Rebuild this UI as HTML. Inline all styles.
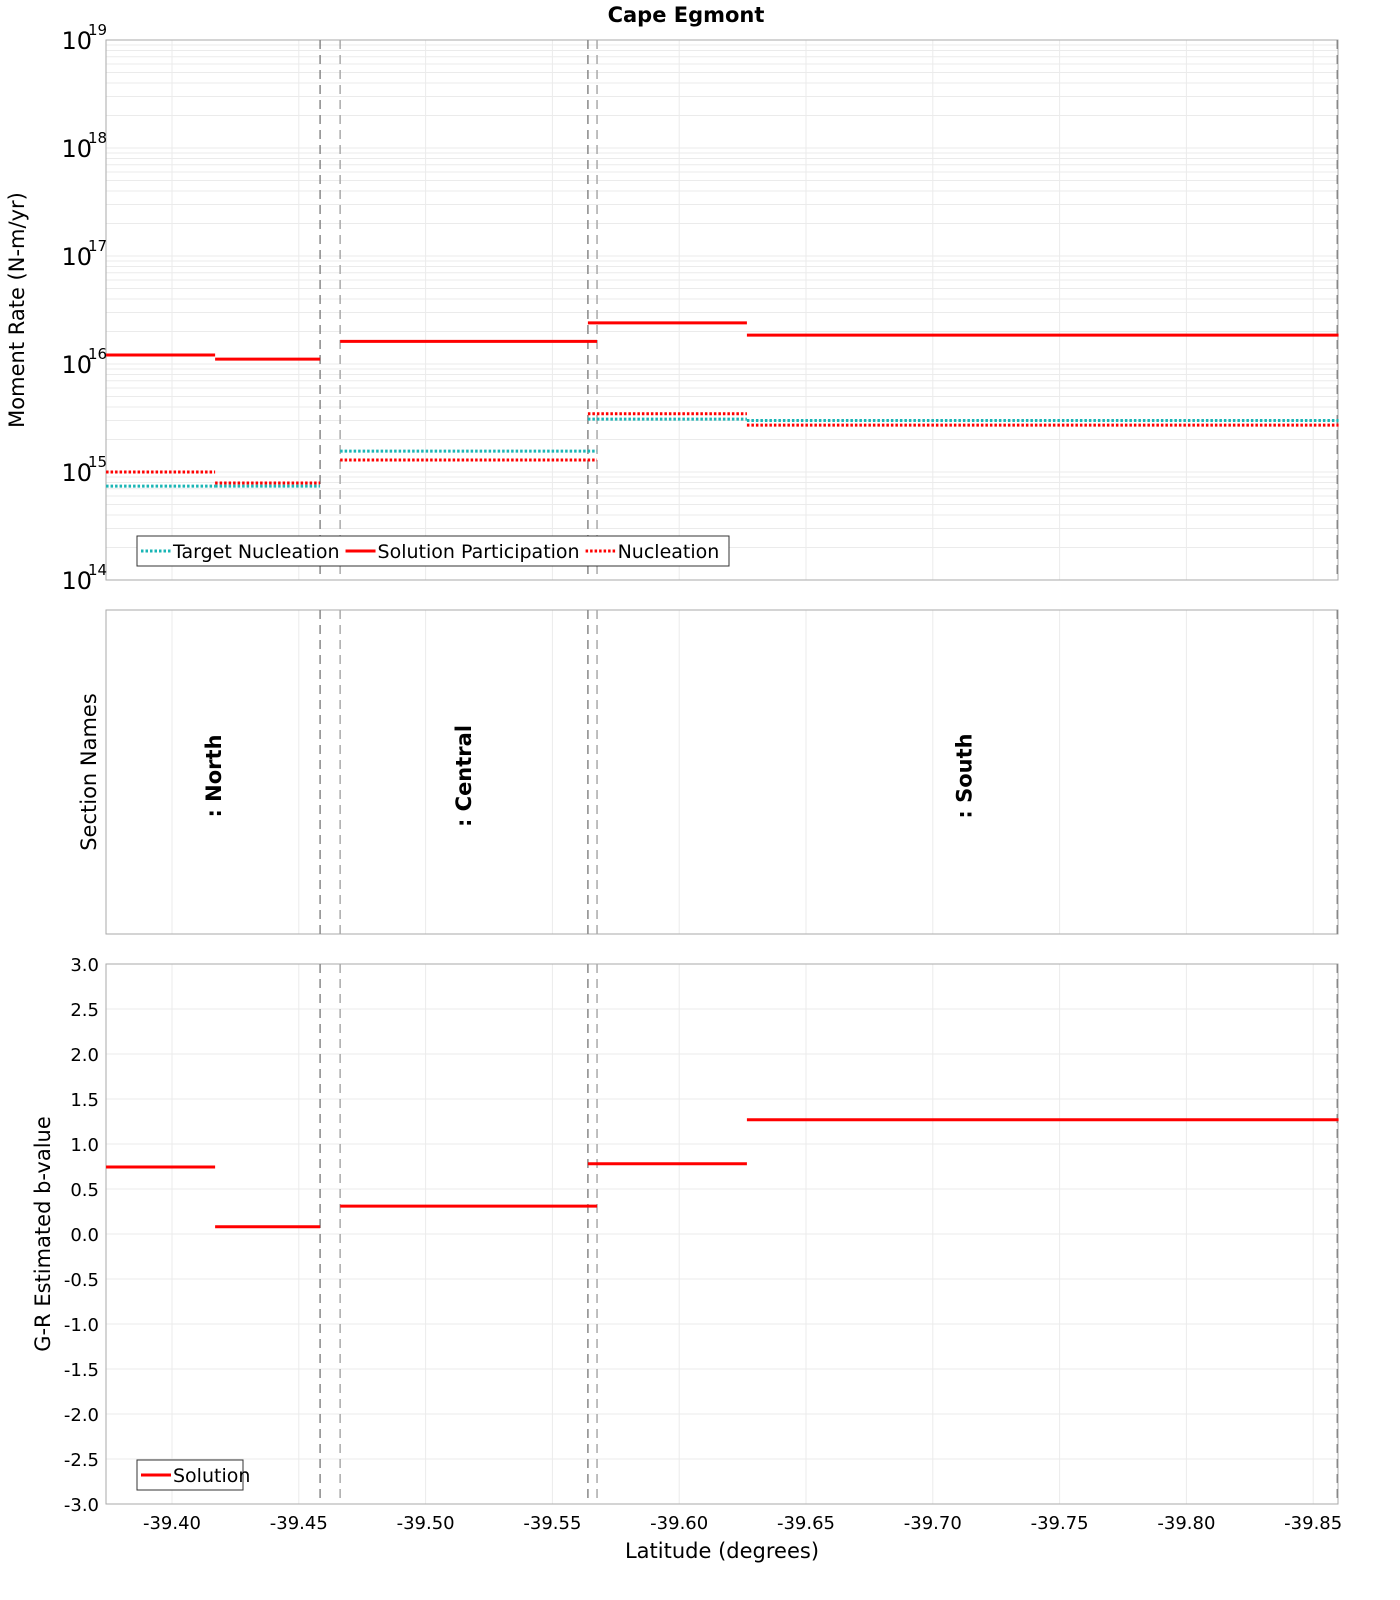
<!DOCTYPE html>
<html><head><meta charset="utf-8">
<style>body{margin:0;background:#fff}svg{display:block;font-family:"DejaVu Sans","Liberation Sans",sans-serif}</style>
</head><body>
<svg id="chart" width="1400" height="1600" viewBox="0 0 1400 1600"></svg>
<script>
// ---- data ----
const segStart = [-39.374, -39.417, -39.4663, -39.564, -39.6267];
const segEnd   = [-39.417, -39.4584, -39.5676, -39.6267, -39.86];
const solutionParticipation = [1.21e16, 1.11e16, 1.62e16, 2.4e16, 1.85e16];
const nucleation = [1.0e15, 7.9e14, 1.29e15, 3.46e15, 2.72e15];
const targetNucleation = [7.4e14, 7.4e14, 1.56e15, 3.09e15, 3.0e15];
const bValues = [0.745, 0.08, 0.31, 0.78, 1.27];
const sectionBounds = [-39.4584, -39.4663, -39.564, -39.5676, -39.8595];
const sectionNames = [": North", ": Central", ": South"];
const sectionCenters = [-39.4165, -39.5152, -39.7125];
const xTicks = [-39.40,-39.45,-39.50,-39.55,-39.60,-39.65,-39.70,-39.75,-39.80,-39.85];
const yTicksB = [3,2.5,2,1.5,1,0.5,0,-0.5,-1,-1.5,-2,-2.5,-3];
const logDecades = [14,15,16,17,18,19];

const NS="http://www.w3.org/2000/svg";
const svg=document.getElementById('chart');
function mk(tag,attrs,parent){const e=document.createElementNS(NS,tag);for(const k in attrs)e.setAttribute(k,attrs[k]);(parent||svg).appendChild(e);return e;}
const X0=106,X1=1338;
const x=v=>172+(-39.40-v)*2536;
const T={top:40,bot:580}, M={top:610,bot:934}, B={top:964,bot:1504};
const yLog=v=>T.bot-(Math.log10(v)-14)*108;
const yB=v=>1234-v*90;

// title
let t=mk('text',{x:686,y:22,'text-anchor':'middle','font-size':21,'font-weight':'bold'});t.textContent='Cape Egmont';



// grids
[T,M,B].forEach((p,i)=>{
  xTicks.forEach(v=>{const l=mk('line',{x1:x(v),x2:x(v),y1:p.top,y2:p.bot,stroke:'#ebebeb','stroke-width':1});
    
    });
});
logDecades.slice(0,-1).forEach(d=>{for(let m=1;m<10;m++){const yy=yLog(m*Math.pow(10,d));
  const l=mk('line',{x1:X0,x2:X1,y1:yy,y2:yy,stroke:'#ebebeb','stroke-width':1});
  
  }});
yTicksB.forEach(v=>{const l=mk('line',{x1:X0,x2:X1,y1:yB(v),y2:yB(v),stroke:'#ebebeb','stroke-width':1});
  
  });

// frames
[T,M,B].forEach((p,i)=>{const r=mk('rect',{x:X0,y:p.top,width:X1-X0,height:p.bot-p.top,fill:'none',stroke:'#aaa','stroke-width':1});
  
  });

// section boundaries
[T,M,B].forEach(p=>sectionBounds.forEach((v,i)=>{const l=mk('line',{x1:x(v),x2:x(v),y1:p.top,y2:p.bot,stroke:i%2?'#aaa':'#888','stroke-width':1.5,'stroke-dasharray':'9,6'});
  
  }));

// series
function seg(vals,yf,color,dash,name){vals.forEach((v,i)=>{const a={x1:x(segStart[i]),x2:x(segEnd[i]),y1:yf(v),y2:yf(v),stroke:color,'stroke-width':dash?3:3};
  if(dash)a['stroke-dasharray']='2.5,2';const l=mk('line',a);
  
  });}
seg(targetNucleation,yLog,'#1ab5b5',true,'target-nucleation-segment');
seg(nucleation,yLog,'#ff0000',true,'nucleation-segment');
seg(solutionParticipation,yLog,'#ff0000',false,'solution-participation-segment');
seg(bValues,yB,'#ff0000',false,'b-value-segment');

// y ticks top
logDecades.forEach(d=>{const yy=yLog(Math.pow(10,d));
  const g=mk('text',{x:92,y:yy+9,'text-anchor':'end','font-size':24});g.textContent='10';
  
  
  const s=mk('text',{x:88,y:yy-5,'font-size':15});s.textContent=String(d);
  
  });
yTicksB.forEach(v=>{const g=mk('text',{x:99,y:yB(v)+7,'text-anchor':'end','font-size':18});g.textContent=v.toFixed(1);
  
  });
xTicks.forEach(v=>{const g=mk('text',{x:x(v),y:1529,'text-anchor':'middle','font-size':18});g.textContent=v.toFixed(2);
  
  });

// axis titles
function rt(txt,cx,cy,size,name,bold){const g=mk('text',{x:cx,y:cy,'text-anchor':'middle','font-size':size,transform:`rotate(-90 ${cx} ${cy})`});
  if(bold)g.setAttribute('font-weight','bold');g.textContent=txt;
  
  return g;}
rt('Moment Rate (N-m/yr)',24,310,21,'y-axis-title-moment');
rt('Section Names',96,772,21,'y-axis-title-sections');
rt('G-R Estimated b-value',50,1234,21,'y-axis-title-bvalue');
t=mk('text',{x:722,y:1558,'text-anchor':'middle','font-size':21});t.textContent='Latitude (degrees)';


sectionNames.forEach((n,i)=>rt(n,x(sectionCenters[i])+7,776,21,'section-label',true));

// legends
function legend(xx,yy,w,items,name){const g=mk('g',{});
  mk('rect',{x:xx,y:yy,width:w,height:30,fill:'#fff',stroke:'#333','stroke-width':1},g);
  let cx=xx+4;items.forEach(it=>{const a={x1:cx,x2:cx+30,y1:yy+15,y2:yy+15,stroke:it[1],'stroke-width':3};if(it[2])a['stroke-dasharray']='2.5,2';
    const l=mk('line',a,g);
    const tx=mk('text',{x:cx+32,y:yy+22,'font-size':19},g);tx.textContent=it[0];
    
    cx+=32+tx.getComputedTextLength()+6;});}
legend(137,536,592,[['Target Nucleation','#1ab5b5',true],['Solution Participation','#ff0000',false],['Nucleation','#ff0000',true]],'moment-legend');
legend(137,1460,106,[['Solution','#ff0000',false]],'bvalue-legend');
</script>
</body></html>
